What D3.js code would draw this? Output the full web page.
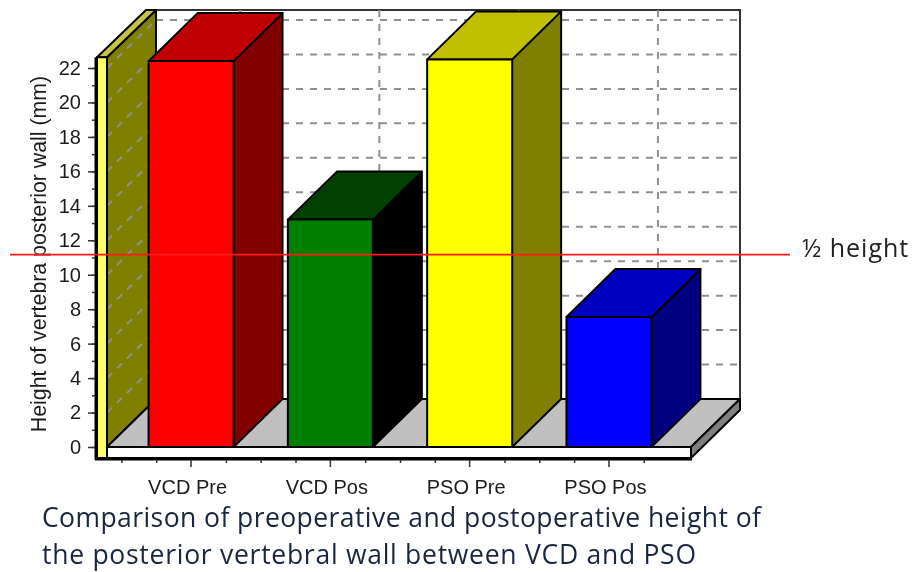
<!DOCTYPE html>
<html>
<head>
  <meta charset="utf-8" />
  <script src="https://cdnjs.cloudflare.com/ajax/libs/d3/7.8.5/d3.min.js"></script>
  <style>
    html, body { margin: 0; padding: 0; background: #fff; }
    svg { display: block; filter: blur(0.35px); }
    .axis path.domain { stroke: none; }
    .axis line { stroke: #333; stroke-width: 1.5; }
    .axis text { font-family: "Liberation Sans", sans-serif; font-size: 20px; fill: #1c1c1c; }
    .grid { stroke: #909090; stroke-width: 2; stroke-dasharray: 7 7; fill: none; }
    .caption { font-family: "Open Sans", sans-serif; font-size: 26.5px; fill: #1a2540; }
  </style>
</head>
<body>
  <svg width="914" height="572"></svg>
  <script>
  var categories = ["VCD Pre", "VCD Pos", "PSO Pre", "PSO Pos"];
  var heights = [22.4, 13.2, 22.5, 7.55];
  var frontColors = ["#ff0000", "#008000", "#ffff00", "#0000ff"];
  var topColors = ["#c00000", "#004000", "#c0c000", "#0000c0"];
  var sideColors = ["#800000", "#000000", "#808000", "#000080"];
  var yTicks = d3.range(0, 23, 2);
  var yMinorTicks = d3.range(0, 23, 1);
  var halfHeight = 11.17;
  var yTitle = "Height of vertebra posterior wall (mm)";
  var captionLines = [
    "Comparison of preoperative and postoperative height of",
    "the posterior vertebral wall between VCD and PSO"
  ];

  var svg = d3.select("svg");

  var depthX = 49, depthY = -48;
  var left = 107, right = 691, wallTop = 22.62;
  var captionWidths = [719, 654];

  var y = d3.scaleLinear().domain([0, 22]).range([447, 68]);
  var x = d3.scaleBand().domain(categories).range([121.4, 678.6])
    .paddingInner(0.39).paddingOuter(0.195);

  function poly(sel, pts, fill, stroke, sw) {
    return sel.append("path")
      .attr("d", "M" + pts.map(p => p.join(",")).join("L") + "Z")
      .attr("fill", fill)
      .attr("stroke", stroke || "#000")
      .attr("stroke-width", sw || 2)
      .attr("stroke-linejoin", "round");
  }

  // back wall
  var backTop = 10, backBottom = y(0) + depthY;
  svg.append("rect")
    .attr("x", left + depthX).attr("y", backTop)
    .attr("width", right - left).attr("height", backBottom - backTop)
    .attr("fill", "#fff").attr("stroke", "#333").attr("stroke-width", 2);

  // horizontal grid on back wall
  svg.selectAll(".gridBack").data(yTicks.slice(1)).enter().append("line")
    .attr("class", "grid")
    .attr("x1", left + depthX).attr("x2", right + depthX)
    .attr("y1", d => y(d) + depthY).attr("y2", d => y(d) + depthY);

  // vertical grid, one between each pair of bars and after the last
  svg.selectAll(".gridV").data(categories).enter().append("line")
    .attr("class", "grid")
    .attr("x1", d => x(d) + x.bandwidth() / 2 + depthX)
    .attr("x2", d => x(d) + x.bandwidth() / 2 + depthX)
    .attr("y1", backTop).attr("y2", backBottom);

  // left wall
  poly(svg, [[left, y(0)], [left, y(wallTop)], [left + depthX, backTop], [left + depthX, backBottom]], "#808000");
  svg.selectAll(".gridLeft").data(yTicks.slice(1)).enter().append("line")
    .attr("class", "grid")
    .attr("x1", left).attr("x2", left + depthX)
    .attr("y1", d => y(d)).attr("y2", d => y(d) + depthY);

  // floor and slab
  poly(svg, [[left, y(0)], [right, y(0)], [right + depthX, backBottom], [left + depthX, backBottom]], "#c0c0c0");
  poly(svg, [[right, y(0)], [right + depthX, backBottom], [right + depthX, backBottom + 11], [right, y(0) + 11]], "#808080");
  poly(svg, [[left, y(0)], [right, y(0)], [right, y(0) + 11], [left, y(0) + 11]], "#fff");

  // yellow side strip of the left wall
  poly(svg, [[97, y(wallTop)], [left, y(wallTop)], [left + depthX, backTop], [97 + depthX, backTop]], "#c4c440");
  poly(svg, [[97, y(wallTop)], [left, y(wallTop)], [left, y(0) + 11], [97, y(0) + 11]], "#ffff66");

  // heavy axis lines
  svg.append("line").attr("x1", 96).attr("x2", 96)
    .attr("y1", y(wallTop)).attr("y2", y(0) + 12.5)
    .attr("stroke", "#000").attr("stroke-width", 3);
  svg.append("line").attr("x1", 95).attr("x2", right + 1)
    .attr("y1", y(0) + 12).attr("y2", y(0) + 12)
    .attr("stroke", "#000").attr("stroke-width", 3);

  // bars
  categories.forEach((c, i) => {
    var x0 = x(c), x1 = x0 + x.bandwidth(), y1 = y(heights[i]), y0 = y(0);
    var g = svg.append("g");
    poly(g, [[x1, y1], [x1 + depthX, y1 + depthY], [x1 + depthX, y0 + depthY], [x1, y0]], sideColors[i]);
    poly(g, [[x0, y1], [x0 + depthX, y1 + depthY], [x1 + depthX, y1 + depthY], [x1, y1]], topColors[i]);
    poly(g, [[x0, y1], [x1, y1], [x1, y0], [x0, y0]], frontColors[i]);
  });

  // y axis
  svg.append("g").attr("class", "axis").attr("transform", "translate(95,0)")
    .call(d3.axisLeft(y).tickValues(yMinorTicks).tickSize(3).tickFormat(""));
  svg.append("g").attr("class", "axis").attr("transform", "translate(95,0)")
    .call(d3.axisLeft(y).tickValues(yTicks).tickSize(7).tickPadding(7));

  // x axis with minor ticks at quarter steps
  var step = x.step();
  var xMinor = d3.merge(categories.map(c => {
    var mid = x(c) + x.bandwidth() / 2;
    return [mid - step / 2, mid - step / 4, mid + step / 4];
  }));
  var xLin = d3.scaleIdentity();
  svg.append("g").attr("class", "axis").attr("transform", "translate(0," + (y(0) + 13) + ")")
    .call(d3.axisBottom(xLin).tickValues(xMinor).tickSize(3).tickFormat(""));
  svg.append("g").attr("class", "axis").attr("transform", "translate(0," + (y(0) + 13) + ")")
    .call(d3.axisBottom(x).tickSize(7).tickPadding(13))
    .selectAll("text").attr("dx", -3.5);

  // y title
  svg.append("text")
    .attr("transform", "translate(46,254) rotate(-90)")
    .attr("text-anchor", "middle")
    .attr("font-family", "'Liberation Sans', sans-serif")
    .attr("font-size", 21.3)
    .attr("fill", "#1c1c1c")
    .text(yTitle);

  // half-height marker
  svg.append("line")
    .attr("x1", 10).attr("x2", 790)
    .attr("y1", y(halfHeight)).attr("y2", y(halfHeight))
    .attr("stroke", "#ff1a1a").attr("stroke-width", 1.8);
  svg.append("text")
    .attr("x", 802).attr("y", 257)
    .attr("font-family", "'Open Sans', sans-serif")
    .attr("font-size", 25)
    .attr("letter-spacing", 1)
    .attr("fill", "#222")
    .text("½ height");

  // caption
  svg.selectAll(".caption").data(captionLines).enter().append("text")
    .attr("class", "caption")
    .attr("x", 42)
    .attr("y", (d, i) => 527 + i * 37)
    .attr("textLength", (d, i) => captionWidths[i])
    .attr("lengthAdjust", "spacing")
    .text(d => d);
  </script>
</body>
</html>
